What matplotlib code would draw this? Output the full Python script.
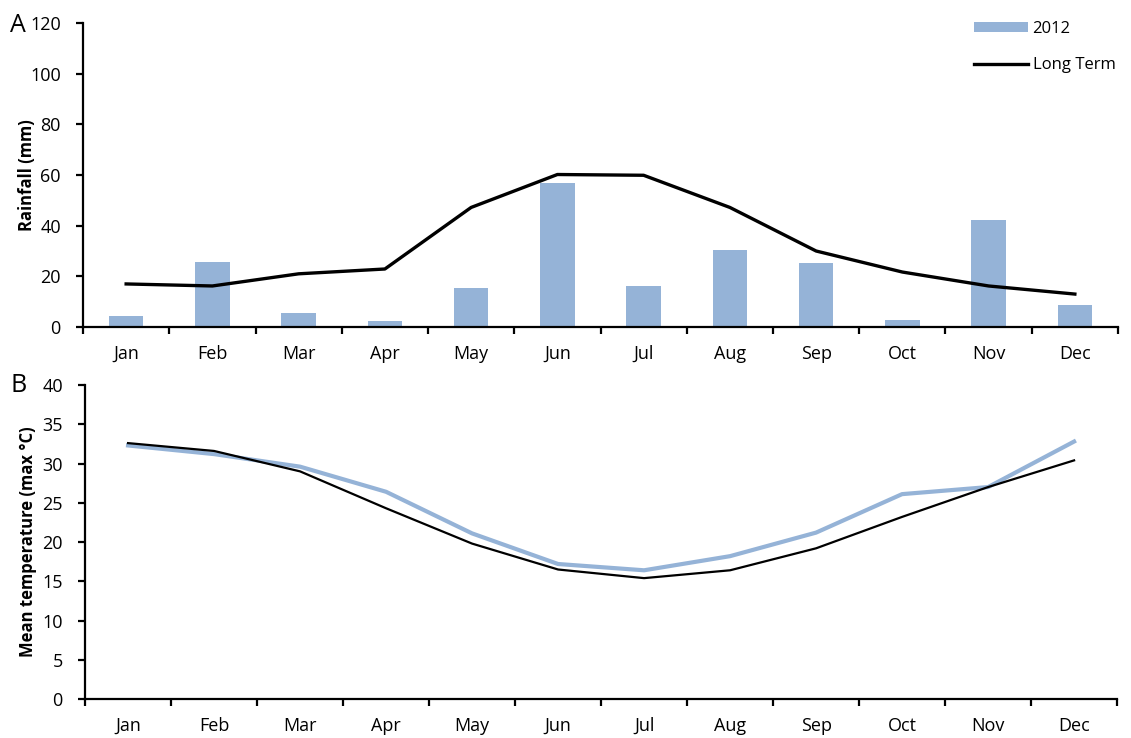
import matplotlib
matplotlib.use("Agg")
import matplotlib.pyplot as plt
import numpy as np

months = ["Jan", "Feb", "Mar", "Apr", "May", "Jun", "Jul", "Aug", "Sep", "Oct", "Nov", "Dec"]
rain_2012 = [4.5, 25.7, 5.6, 2.4, 15.4, 56.7, 16.2, 30.4, 25.3, 2.8, 42.2, 8.7]
rain_long = [17.0, 16.2, 21.0, 22.9, 47.2, 60.2, 59.9, 47.2, 30.0, 21.7, 16.2, 13.0]
temp_2012 = [32.3, 31.2, 29.6, 26.4, 21.1, 17.2, 16.4, 18.2, 21.2, 26.1, 27.0, 32.8]
temp_long = [32.6, 31.6, 29.0, 24.3, 19.8, 16.5, 15.4, 16.4, 19.2, 23.2, 27.0, 30.4]

plt.rcParams['font.family'] = ['Open Sans', 'DejaVu Sans']
BLUE = "#95B3D7"

fig = plt.figure(figsize=(11.31, 7.38), dpi=100)
ax1 = fig.add_axes([0.0734, 0.5569, 0.9151, 0.4119])
ax2 = fig.add_axes([0.0752, 0.0528, 0.9125, 0.4255])

x = np.arange(len(months))

def style(ax, ymax, ystep):
    for s in ["top", "right"]:
        ax.spines[s].set_visible(False)
    for s in ["left", "bottom"]:
        ax.spines[s].set_linewidth(1.6)
        ax.spines[s].set_color("black")
    ax.set_xlim(-0.5, 11.5)
    ax.set_ylim(0, ymax)
    ax.set_yticks(np.arange(0, ymax + 0.1, ystep))
    ax.set_xticks(np.arange(-0.5, 12, 1))
    ax.set_xticklabels([])
    ax.set_xticks(x, minor=True)
    ax.set_xticklabels(months, minor=True)
    ax.tick_params(axis="x", which="major", direction="out", length=5, width=1.6)
    ax.tick_params(axis="x", which="minor", length=0, pad=13, labelsize=13)
    ax.tick_params(axis="y", direction="out", length=5, width=1.6, pad=11, labelsize=13)

bars = ax1.bar(x, rain_2012, width=0.4, color=BLUE, label="2012", zorder=2)
line, = ax1.plot(x, rain_long, color="black", lw=2.4, label="Long Term", zorder=3)
style(ax1, 120, 20)
ax1.set_ylabel("Rainfall (mm)", fontsize=12, fontweight="bold")
ax1.yaxis.set_label_coords(-0.0454, 0.5)
ax1.legend(handles=[bars, line], loc="upper right", bbox_to_anchor=(1.012, 1.055), frameon=False,
           fontsize=12, handlelength=3.2, handleheight=0.55, labelspacing=1.2, handletextpad=0.3)

ax2.plot(x, temp_2012, color=BLUE, lw=3.0, zorder=2)
ax2.plot(x, temp_long, color="black", lw=1.6, zorder=3)
style(ax2, 40, 5)
ax2.set_ylabel("Mean temperature (max °C)", fontsize=12, fontweight="bold")
ax2.yaxis.set_label_coords(-0.0464, 0.5)

fig.text(0.009, 0.965, "A", fontsize=18, va="center", ha="left")
fig.text(0.009, 0.478, "B", fontsize=18, va="center", ha="left")

fig.savefig("out.png", dpi=100)
